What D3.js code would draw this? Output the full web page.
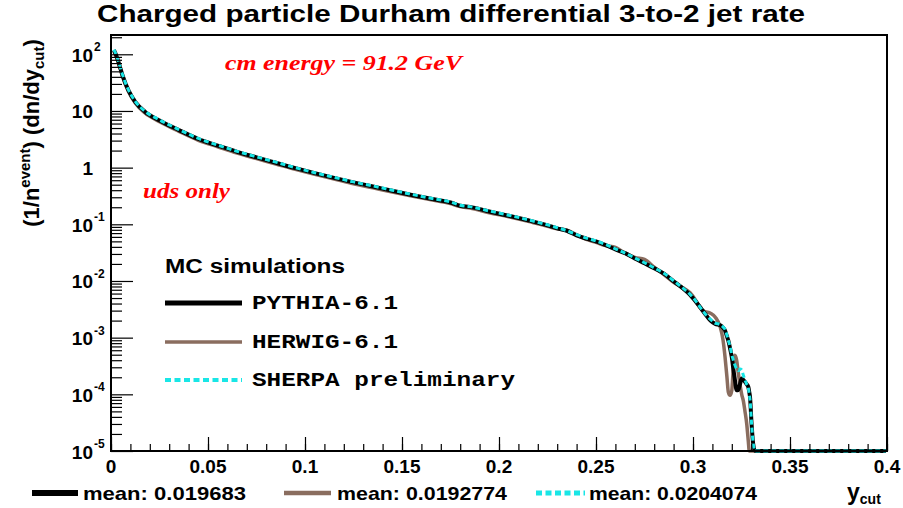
<!DOCTYPE html>
<html><head><meta charset="utf-8">
<script src="https://cdn.jsdelivr.net/npm/d3@7"></script>
<style>body{margin:0;background:#fff} svg{display:block}</style>
</head><body><svg id="c" width="903" height="508"></svg>
<script>
// ---------- data ----------
const ycut = [0.0015,0.003,0.0045,0.006,0.009,0.0125,0.0175,0.025,0.035,0.045,
  0.055,0.065,0.075,0.085,0.095,0.105,0.115,0.125,0.135,0.145,
  0.155,0.165,0.175,0.18,0.185,0.195,0.205,0.215,0.225,0.23,
  0.235,0.24,0.245,0.25,0.255,0.26,0.265,0.27,0.275,0.28,
  0.285,0.29,0.295,0.2985,0.3015,0.3035,0.306,0.309,0.3115,0.314,
  0.3155,0.3165,0.3175,0.3182,0.3191,0.32,0.3208,0.3216,0.3225,0.3234,
  0.3242,0.3251,0.3259,0.3268,0.3277,0.3285,0.329,0.3294,0.3302,0.331,
  0.332,0.34,0.36,0.38,0.3995];
const pythia = [118,90,62,42,23,14.5,9.7,6.8,4.6,3.2,
  2.45,1.9,1.52,1.22,0.98,0.80,0.66,0.55,0.465,0.39,
  0.33,0.282,0.243,0.212,0.203,0.168,0.142,0.118,0.096,0.085,
  0.077,0.064,0.056,0.050,0.043,0.036,0.031,0.025,0.0205,0.0168,
  0.0135,0.0099,0.0073,0.0057,0.0043,0.0035,0.0027,0.0020,0.00175,0.00165,
  0.0015,0.00134,0.00105,0.00089,0.00065,0.00045,0.00028,0.00018,0.000118,0.00012,
  0.00015,0.00019,0.00018,0.000166,0.00015,0.000135,0.00011,0.000089,0.00003,0.0000135,
  0,0,0,0,0];
const herwig = [112,86,59,40,22,13.8,9.2,6.45,4.37,3.04,
  2.33,1.8,1.44,1.16,0.93,0.76,0.63,0.52,0.44,0.37,
  0.315,0.27,0.232,0.205,0.194,0.16,0.136,0.113,0.092,0.083,
  0.079,0.065,0.054,0.048,0.042,0.039,0.031,0.026,0.024,0.0175,
  0.013,0.0095,0.0075,0.0062,0.0045,0.0034,0.0029,0.0027,0.0023,0.00155,
  0.0009,0.00046,0.0002,0.00011,0.000096,0.000117,0.0003,0.00049,0.0004,0.00023,
  0.00015,0.0001,0.000078,0.00005,0.00003,0.000015,0,0,0,0,
  0,0,0,0,0];
const sherpa = [121,92,63,43,23.5,14.8,9.9,6.95,4.7,3.27,
  2.5,1.94,1.55,1.25,1.0,0.815,0.675,0.56,0.475,0.4,
  0.337,0.288,0.248,0.217,0.205,0.172,0.145,0.12,0.098,0.087,
  0.077,0.066,0.057,0.051,0.044,0.037,0.031,0.0255,0.021,0.017,
  0.0137,0.0101,0.0074,0.0058,0.0044,0.0035,0.0027,0.0021,0.0018,0.0017,
  0.00155,0.0014,0.0011,0.0009,0.0007,0.0005,0.0004,0.00033,0.00028,0.00026,
  0.00028,0.00027,0.00022,0.00018,0.00015,0.00013,0.0001,0.00008,0.00003,0.000014,
  0,0,0,0,0];
const seriesNames = ["PYTHIA-6.1","HERWIG-6.1","SHERPA preliminary"];
const meanValues = ["0.019683","0.0192774","0.0204074"];
const xTickValues = [0,0.05,0.1,0.15,0.2,0.25,0.3,0.35,0.4];
const xTickLabels = ["0","0.05","0.1","0.15","0.2","0.25","0.3","0.35","0.4"];
const yDecades = [2,1,0,-1,-2,-3,-4,-5];

// ---------- layout ----------
const L = 111, R = 887, T = 35, B = 451;
const yMin = 1e-5, yMax = 219;
const svg = d3.select("#c");
const x = d3.scaleLinear().domain([0,0.4]).range([L,R]);
const y = d3.scaleLog().domain([yMin,yMax]).range([B,T]).clamp(true);

const colors = {pythia:"#000000", herwig:"#8a6d5f", sherpa:"#19e6e6"};
const sans = "'Liberation Sans', Arial, Helvetica, sans-serif";
const serif = "'Liberation Serif', 'Times New Roman', serif";
const mono = "'Liberation Mono', 'Courier New', monospace";

// Title
svg.append("text").attr("x", 451).attr("y", 22).attr("text-anchor","middle")
  .attr("font-family", sans).attr("font-weight","bold").attr("font-size", 23)
  .attr("textLength", 708).attr("lengthAdjust","spacingAndGlyphs")
  .text("Charged particle Durham differential 3-to-2 jet rate");

// Curves
const line = d3.line().x((d,i)=>x(ycut[i])).y(d=>y(Math.max(d,yMin))).curve(d3.curveMonotoneX);
const plot = svg.append("g");
plot.append("path").datum(herwig).attr("d", line).attr("fill","none")
  .attr("stroke", colors.herwig).attr("stroke-width", 3.5);
plot.append("path").datum(pythia).attr("d", line).attr("fill","none")
  .attr("stroke", colors.pythia).attr("stroke-width", 4);
plot.append("path").datum(sherpa).attr("d", line).attr("fill","none")
  .attr("stroke", colors.sherpa).attr("stroke-width", 3).attr("stroke-dasharray","5,3");

// Frame
svg.append("rect").attr("x",L).attr("y",T).attr("width",R-L).attr("height",B-T)
  .attr("fill","none").attr("stroke","#000").attr("stroke-width",2);

// X axis ticks (pointing up into plot)
const xMinor = d3.range(0, 0.4001, 0.01).map(v=>+v.toFixed(3));
const gx = svg.append("g").attr("transform",`translate(0,${B})`);
gx.call(d3.axisTop(x).tickValues(xMinor).tickSize(7).tickFormat(""));
gx.call(g=>g.append("g").call(d3.axisTop(x).tickValues(xTickValues).tickSize(14).tickFormat("")));
gx.selectAll(".domain").remove();
gx.selectAll("line").attr("stroke","#000").attr("stroke-width",1.2);
xTickValues.forEach((v,i)=>{
  svg.append("text").attr("x", x(v)).attr("y", 473).attr("text-anchor","middle")
    .attr("font-family", sans).attr("font-weight","bold").attr("font-size", 19)
    .text(xTickLabels[i]);
});

// Y axis ticks (pointing right into plot)
const yMajor = yDecades.map(e=>Math.pow(10,e));
const yMinor = [];
for (let e=-5; e<=2; e++) for (let k=2;k<=9;k++){ const v=k*Math.pow(10,e); if (v<=yMax) yMinor.push(v); }
const gy = svg.append("g").attr("transform",`translate(${L},0)`);
gy.call(d3.axisRight(y).tickValues(yMinor).tickSize(11).tickFormat(""));
gy.call(g=>g.append("g").call(d3.axisRight(y).tickValues(yMajor).tickSize(22).tickFormat("")));
gy.selectAll(".domain").remove();
gy.selectAll("line").attr("stroke","#000").attr("stroke-width",1.2);
yDecades.forEach(e=>{
  const yy = y(Math.pow(10,e));
  if (e===1 || e===0) {
    svg.append("text").attr("x", 93).attr("y", yy+7.5).attr("text-anchor","end")
      .attr("font-family", sans).attr("font-weight","bold").attr("font-size", 19)
      .text(e===1 ? "10" : "1");
  } else {
    svg.append("text").attr("x", 93).attr("y", yy+7.5).attr("text-anchor","end")
      .attr("font-family", sans).attr("font-weight","bold").attr("font-size", 19).text("10");
    svg.append("text").attr("x", 94).attr("y", yy-3).attr("text-anchor","start")
      .attr("font-family", sans).attr("font-weight","bold").attr("font-size", 12).text(String(e));
  }
});

// Y axis title
const yt = svg.append("text").attr("transform","translate(39,133) rotate(-90)")
  .attr("text-anchor","middle").attr("font-family", sans).attr("font-weight","bold").attr("font-size", 22);
yt.append("tspan").text("(1/n");
yt.append("tspan").attr("font-size",15).attr("dy",-9).text("event");
yt.append("tspan").attr("dy",9).text(") (dn/dy");
yt.append("tspan").attr("font-size",15).attr("dy",5).text("cut");
yt.append("tspan").attr("dy",-5).text(")");

// X axis title
const xt = svg.append("text").attr("x", 847).attr("y", 500)
  .attr("font-family", sans).attr("font-weight","bold").attr("font-size", 23);
xt.append("tspan").text("y");
xt.append("tspan").attr("font-size",14).attr("dy",4).text("cut");

// Annotations
svg.append("text").attr("x",225).attr("y",70).attr("font-family",serif).attr("font-weight","bold")
  .attr("font-style","italic").attr("font-size",22).attr("fill","#ff0000")
  .attr("textLength",237).attr("lengthAdjust","spacingAndGlyphs").text("cm energy = 91.2 GeV");
svg.append("text").attr("x",143).attr("y",198).attr("font-family",serif).attr("font-weight","bold")
  .attr("font-style","italic").attr("font-size",22).attr("fill","#ff0000")
  .attr("textLength",87).attr("lengthAdjust","spacingAndGlyphs").text("uds only");

// Legend
svg.append("text").attr("x",165).attr("y",273).attr("font-family",sans).attr("font-weight","bold")
  .attr("font-size",20).attr("textLength",180).attr("lengthAdjust","spacingAndGlyphs").text("MC simulations");
const legY = [303,342,380];
const legStyles = [
  {c:colors.pythia, w:5, dash:null},
  {c:colors.herwig, w:3.5, dash:null},
  {c:colors.sherpa, w:4, dash:"6,3.5"}
];
const legLen = [146,146,263];
seriesNames.forEach((n,i)=>{
  svg.append("line").attr("x1",165).attr("x2",242).attr("y1",legY[i]).attr("y2",legY[i])
    .attr("stroke",legStyles[i].c).attr("stroke-width",legStyles[i].w)
    .attr("stroke-dasharray",legStyles[i].dash);
  svg.append("text").attr("x",252).attr("y",legY[i]+6).attr("font-family",mono).attr("font-weight","bold")
    .attr("font-size",21).attr("textLength",legLen[i]).attr("lengthAdjust","spacingAndGlyphs").text(n);
});

// Bottom means
const mLineX = [[32,78],[284,331],[536,585]];
const mTextX = [83,337,589];
const mTextLen = [163,170,168];
meanValues.forEach((m,i)=>{
  svg.append("line").attr("x1",mLineX[i][0]).attr("x2",mLineX[i][1]).attr("y1",493).attr("y2",493)
    .attr("stroke",legStyles[i].c).attr("stroke-width",legStyles[i].w+1)
    .attr("stroke-dasharray",legStyles[i].dash);
  svg.append("text").attr("x",mTextX[i]).attr("y",500).attr("font-family",sans).attr("font-weight","bold")
    .attr("font-size",19).attr("textLength",mTextLen[i]).attr("lengthAdjust","spacingAndGlyphs")
    .text("mean: " + m);
});
</script></body></html>
